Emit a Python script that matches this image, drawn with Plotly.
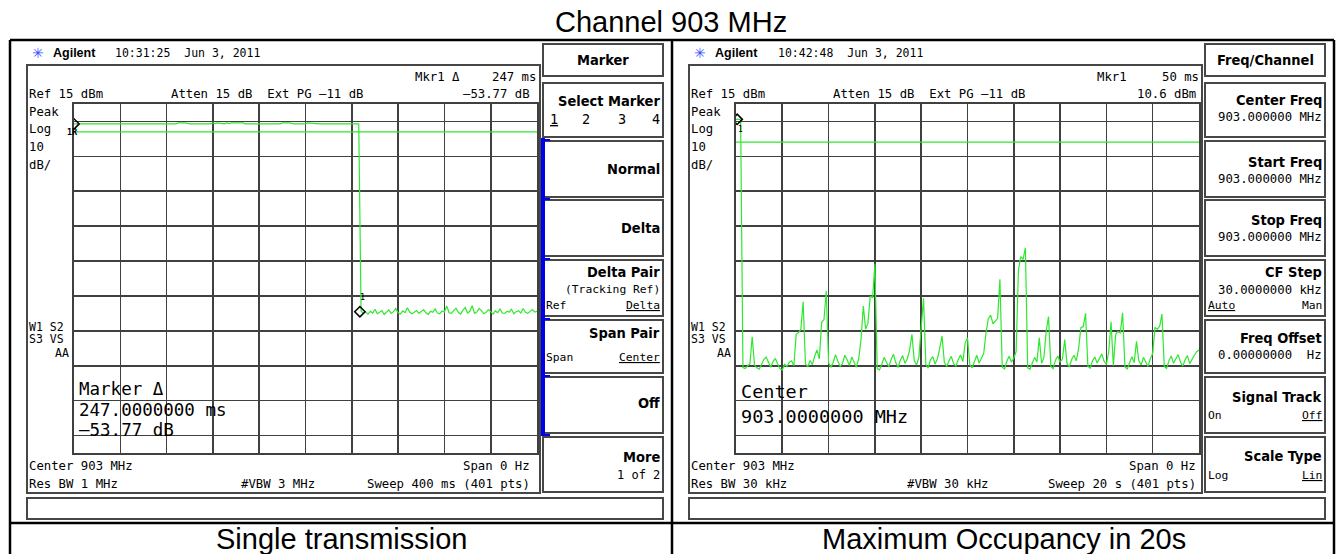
import numpy as np
import plotly.graph_objects as go

W, H = 1337, 554

# ---------------- data ----------------
# Left screen: zero span, sweep 400 ms (time axis in ms), Ref 15 dBm, 10 dB/div
left_sweep_ms = [0, 400]
left_time_ms = np.arange(0, 401, 2)
left_trace1_on = [
    9.3, 9.3, 9.2, 9.3, 9.3, 9.3, 9.2, 9.3, 9.3, 9.3,
    9.3, 9.2, 9.3, 9.3, 9.3, 9.3, 9.3, 9.2, 9.3, 9.3,
    9.3, 9.3, 9.3, 9.2, 9.3, 9.3, 9.3, 9.3, 9.2, 9.3,
    9.3, 9.3, 9.3, 9.3, 9.2, 9.3, 9.3, 9.3, 9.3, 9.3,
    9.2, 9.3, 9.3, 9.3, 9.3, 9.6, 9.5, 9.6, 9.6, 9.4,
    9.3, 9.3, 9.2, 9.3, 9.3, 9.3, 9.3, 9.3, 9.3, 9.3,
    9.6, 9.4, 9.6, 9.5, 9.6, 9.3, 9.6, 9.4, 9.6, 9.6,
    9.4, 9.6, 9.5, 9.6, 9.3, 9.3, 9.3, 9.2, 9.3, 9.3,
    9.3, 9.3, 9.3, 9.2, 9.3, 9.3, 9.3, 9.3, 9.3, 9.3,
    9.6, 9.5, 9.6, 9.6, 9.4, 9.3, 9.3, 9.3, 9.2, 9.3,
    9.3, 9.6, 9.5, 9.6, 9.4, 9.3, 9.3, 9.3, 9.3, 9.2,
    9.3, 9.3, 9.3, 9.3, 9.3, 9.2, 9.3, 9.3, 9.3, 9.3,
    9.3, 9.3, 9.3, 9.3,
]
left_trace1_off = [
    -44.3, -45.0, -44.6, -45.2, -44.4, -44.9, -43.8, -45.1, -44.7, -44.2,
    -45.3, -44.6, -44.0, -45.0, -44.5, -43.6, -44.9, -45.2, -44.3, -44.8,
    -43.4, -44.6, -45.1, -44.7, -44.2, -45.0, -44.5, -43.9, -44.8, -45.3,
    -44.4, -44.7, -43.7, -44.9, -45.1, -44.3, -44.6, -42.9, -44.8, -45.0,
    -44.2, -43.5, -44.7, -45.2, -44.1, -43.3, -44.9, -44.4, -42.8, -45.0,
    -44.6, -43.6, -44.2, -45.1, -44.7, -43.9, -44.5, -45.2, -44.3, -44.8,
    -43.7, -44.9, -45.0, -44.4, -44.6, -43.8, -45.1, -44.5, -44.2, -44.9,
    -43.6, -44.7, -45.0, -44.3, -43.9, -44.6, -44.4,
]
left_trace2_time_ms = [0, 40, 80, 120, 160, 200, 240, 280, 320, 360, 400]
left_trace2 = [7.0, 7.0, 7.0, 7.0, 7.0, 7.0, 7.0, 7.0, 7.0, 7.0, 7.0]
left_marker_time_ms = [0, 247]
left_marker_dbm = [9.3, -44.5]

# Right screen: zero span, sweep 20 s (time axis in s)
right_sweep_s = [0, 20]
right_time_s = np.round(np.arange(0, 201) * 0.1, 2)
right_trace1 = [
    10.6, 10.6, 10.6, -60.5, -60.8, -60.0, -59.5, -51.7, -59.8, -60.6,
    -61.0, -59.7, -58.2, -57.5, -59.0, -60.4, -58.8, -57.9, -59.5, -60.9,
    -61.2, -59.6, -60.2, -59.0, -58.6, -60.0, -51.0, -50.5, -49.6, -41.6,
    -59.4, -60.3, -58.5, -59.7, -57.2, -55.5, -58.0, -47.5, -46.8, -38.6,
    -59.2, -60.5, -59.0, -56.8, -58.7, -60.2, -59.4, -57.0, -58.3, -59.9,
    -57.5, -58.9, -60.4, -58.0, -52.5, -42.9, -49.5, -47.8, -40.0, -40.5,
    -30.8, -60.8, -61.2, -59.5, -57.6, -59.0, -60.3, -58.2, -56.7, -59.1,
    -60.5, -58.4, -57.1, -59.3, -58.0, -55.5, -51.0, -58.5, -59.8, -57.5,
    -47.5, -40.7, -59.6, -60.7, -58.3, -57.4, -59.5, -58.1, -55.0, -51.5,
    -59.0, -60.2, -58.6, -57.3, -59.4, -60.1, -58.2, -56.9, -58.8, -53.5,
    -52.0, -59.7, -60.6, -58.5, -57.0, -59.2, -58.0, -56.5, -50.5, -46.5,
    -45.5, -48.0, -47.2, -46.4, -35.2, -60.4, -60.9, -58.7, -57.3, -59.0,
    -57.8, -56.0, -32.6, -28.7, -29.5, -26.2, -60.6, -61.0, -59.2, -57.6,
    -58.9, -52.0, -59.3, -57.7, -50.0, -45.9, -60.2, -60.8, -58.4, -57.2,
    -59.0, -58.1, -52.5, -59.4, -60.3, -58.2, -57.0, -58.6, -55.0, -49.0,
    -48.8, -45.0, -60.1, -60.7, -58.6, -57.5, -59.2, -58.0, -56.6, -58.7,
    -59.6, -56.0, -47.4, -60.0, -51.0, -50.2, -50.6, -44.8, -60.3, -60.9,
    -58.8, -57.4, -59.1, -53.0, -58.5, -59.8, -57.6, -58.9, -60.2, -57.9,
    -56.5, -49.0, -49.5, -48.7, -45.2, -60.2, -60.8, -58.6, -57.2, -59.3,
    -58.0, -56.8, -59.0, -60.1, -58.3, -57.1, -59.4, -58.0, -57.0, -56.0,
    -55.5,
]
right_trace2_time_s = [0, 2, 4, 6, 8, 10, 12, 14, 16, 18, 20]
right_trace2 = [4.1, 4.1, 4.1, 4.1, 4.1, 4.1, 4.1, 4.1, 4.1, 4.1, 4.1]
right_marker_time_s = [0.05]
right_marker_dbm = [10.6]

ref_level_dbm = 15
db_per_div = 10
n_div = 10

# ---------------- styling ----------------
GREEN = "#2ee82e"
GRID = "#404040"
FRAME = "#474747"
MONO = "DejaVu Sans Mono"
KEYF = "DejaVu Sans Condensed, DejaVu Sans"
SANS = "Liberation Sans, Arial"

fig = go.Figure()

fig.add_trace(go.Scatter(x=left_trace2_time_ms, y=left_trace2, mode="lines",
                         line=dict(color=GREEN, width=1.2), xaxis="x", yaxis="y", hoverinfo="skip"))
fig.add_trace(go.Scatter(x=left_time_ms, y=left_trace1_on + left_trace1_off, mode="lines",
                         line=dict(color=GREEN, width=1.2), xaxis="x", yaxis="y", hoverinfo="skip"))
fig.add_trace(go.Scatter(x=left_marker_time_ms, y=left_marker_dbm, mode="markers",
                         marker=dict(symbol="diamond-open", size=8, color="black", line=dict(width=1.5)),
                         xaxis="x", yaxis="y", hoverinfo="skip"))

fig.add_trace(go.Scatter(x=right_trace2_time_s, y=right_trace2, mode="lines",
                         line=dict(color=GREEN, width=1.2), xaxis="x2", yaxis="y2", hoverinfo="skip"))
fig.add_trace(go.Scatter(x=right_time_s, y=right_trace1, mode="lines",
                         line=dict(color=GREEN, width=1.2), xaxis="x2", yaxis="y2", hoverinfo="skip"))
fig.add_trace(go.Scatter(x=right_marker_time_s, y=right_marker_dbm, mode="markers",
                         marker=dict(symbol="diamond-open", size=8, color="black", line=dict(width=1.5)),
                         xaxis="x2", yaxis="y2", hoverinfo="skip"))

ybot = ref_level_dbm - db_per_div * n_div


def xdom(a, b):
    return [a / W, b / W]


ydom = [1 - 453 / H, 1 - 104 / H]
axcommon = dict(showgrid=True, gridcolor=GRID, gridwidth=1.6, showline=True, mirror=True,
                linecolor=GRID, linewidth=2, zeroline=False, showticklabels=False, ticks="",
                fixedrange=True)
fig.update_layout(
    xaxis=dict(domain=xdom(74, 537), range=left_sweep_ms, dtick=(left_sweep_ms[1]) / n_div, anchor="y", **axcommon),
    yaxis=dict(domain=ydom, range=[ybot, ref_level_dbm], dtick=db_per_div, anchor="x", **axcommon),
    xaxis2=dict(domain=xdom(736, 1199), range=right_sweep_s, dtick=(right_sweep_s[1]) / n_div, anchor="y2", **axcommon),
    yaxis2=dict(domain=ydom, range=[ybot, ref_level_dbm], dtick=db_per_div, anchor="x2", **axcommon),
)

shapes = []
anns = []


def rect(x0, y0, x1, y1, color=FRAME, width=2, fill=None):
    shapes.append(dict(type="rect", xref="paper", yref="paper", x0=x0 / W, x1=x1 / W,
                       y0=1 - y1 / H, y1=1 - y0 / H, line=dict(color=color, width=width),
                       fillcolor=fill if fill else "rgba(0,0,0,0)", layer="above"))


def line(x0, y0, x1, y1, color="black", width=2.5):
    shapes.append(dict(type="line", xref="paper", yref="paper", x0=x0 / W, x1=x1 / W,
                       y0=1 - y0 / H, y1=1 - y1 / H, line=dict(color=color, width=width)))


def T(text, x, y, size=12.3, anchor="left", family=MONO, bold=False, color="black", ul=False):
    if ul:
        text = "<span style='text-decoration:underline'>" + text + "</span>"
    if bold:
        text = "<b>" + text + "</b>"
    anns.append(dict(text=text, x=x / W, y=1 - y / H, xref="paper", yref="paper",
                     xanchor=anchor, yanchor="middle", showarrow=False, borderpad=0,
                     font=dict(family=family, size=size, color=color)))


# outer table
line(10, 40, 1334, 40)
line(10, 40, 10, 560)
line(672, 40, 672, 560)
line(1334, 40, 1334, 560)
line(10, 523, 1334, 523)

T("Channel 903 MHz", 671, 22, size=29, anchor="center", family=SANS)
T("Single transmission", 341, 539, size=29, anchor="center", family=SANS)
T("Maximum Occupancy in 20s", 1004, 539, size=29, anchor="center", family=SANS)

key_boxes = [(83, 137), (141, 197), (200, 256), (260, 316), (320, 373), (377, 433), (437, 492)]

for dx in (0, 662):
    # display frame and status bar
    rect(27 + dx, 65, 540 + dx, 493)
    rect(27 + dx, 498, 663 + dx, 519)
    # soft keys
    rect(543 + dx, 44, 663 + dx, 76)
    for (a, b) in key_boxes:
        rect(543 + dx, a, 663 + dx, b)
    # header
    T("\u2733", 31 + dx, 53, size=14, color="#3c50ff", family="DejaVu Sans")
    T("Agilent", 52 + dx, 53, size=12.5, bold=True, family=SANS)
    T("Ref 15 dBm", 28 + dx, 94)
    T("Atten 15 dB  Ext PG \u201311 dB", 170 + dx, 94)
    for txt, yy in (("Peak", 112), ("Log", 129), ("10", 147), ("dB/", 165)):
        T(txt, 28 + dx, yy)
    T("W1 S2", 28 + dx, 327, size=11.5)
    T("S3 VS", 28 + dx, 339, size=11.5)
    T("AA", 70 + dx, 353, size=11.5, anchor="right")
    T("Center 903 MHz", 28 + dx, 466)

# left panel specific texts
T("10:31:25  Jun 3, 2011", 114, 53, size=11.5)
T("Mkr1 \u0394", 414, 77)
T("247 ms", 537, 77, anchor="right")
T("\u201353.77 dB", 531, 94, anchor="right")
T("Res BW 1 MHz", 28, 484)
T("#VBW 3 MHz", 240, 484)
T("Sweep 400 ms (401 pts)", 531, 484, anchor="right")
T("Span 0 Hz", 531, 466, anchor="right")
T("1R", 66, 132, size=8.5, bold=True)
T("1", 359, 297, size=8.5)
T("Marker \u0394", 78, 389, size=17.5)
T("247.0000000 ms", 78, 409.5, size=17.5)
T("\u201353.77 dB", 78, 430, size=17.5)

# left soft keys
T("Marker", 603, 60, size=14.5, anchor="center", family=KEYF, bold=True)
T("Select Marker", 661, 101, size=14.5, anchor="right", family=KEYF, bold=True)
T("1", 549, 119, size=13.5, ul=True)
T("2", 586, 119, size=13.5, anchor="center")
T("3", 622, 119, size=13.5, anchor="center")
T("4", 661, 119, size=13.5, anchor="right")
T("Normal", 661, 169, size=14.5, anchor="right", family=KEYF, bold=True)
T("Delta", 661, 228, size=14.5, anchor="right", family=KEYF, bold=True)
T("Delta Pair", 661, 272, size=14.5, anchor="right", family=KEYF, bold=True)
T("(Tracking Ref)", 661, 289, size=11.3, anchor="right")
T("Ref", 545, 305, size=11.3)
T("Delta", 661, 305, size=11.3, anchor="right", ul=True)
T("Span Pair", 661, 333, size=14.5, anchor="right", family=KEYF, bold=True)
T("Span", 545, 357, size=11.3)
T("Center", 661, 357, size=11.3, anchor="right", ul=True)
T("Off", 661, 403, size=14.5, anchor="right", family=KEYF, bold=True)
T("More", 661, 457, size=14.5, anchor="right", family=KEYF, bold=True)
T("1 of 2", 661, 475, size=12, anchor="right")

# blue active-menu bar on the left screen
rect(541, 138, 545, 436, color="#0000ee", width=0, fill="#0000ee")
for yy in (139, 198, 258, 318, 375, 434):
    rect(541, yy, 550, yy + 2, color="#0000ee", width=0, fill="#0000ee")

# right panel specific texts
T("10:42:48  Jun 3, 2011", 777, 53, size=11.5)
T("Mkr1", 1096, 77)
T("50 ms", 1200, 77, anchor="right")
T("10.6 dBm", 1197, 94, anchor="right")
T("Res BW 30 kHz", 690, 484)
T("#VBW 30 kHz", 906, 484)
T("Sweep 20 s (401 pts)", 1197, 484, anchor="right")
T("Span 0 Hz", 1197, 466, anchor="right")
T("1", 737, 129, size=8)
T("Center", 740, 391, size=18.5)
T("903.0000000 MHz", 740, 416, size=18.5)

RK = 1323
T("Freq/Channel", 1265, 60, size=14.5, anchor="center", family=KEYF, bold=True)
T("Center Freq", RK, 100, size=14.5, anchor="right", family=KEYF, bold=True)
T("903.000000 MHz", RK, 117, size=12.3, anchor="right")
T("Start Freq", RK, 162, size=14.5, anchor="right", family=KEYF, bold=True)
T("903.000000 MHz", RK, 179, size=12.3, anchor="right")
T("Stop Freq", RK, 220, size=14.5, anchor="right", family=KEYF, bold=True)
T("903.000000 MHz", RK, 237, size=12.3, anchor="right")
T("CF Step", RK, 272, size=14.5, anchor="right", family=KEYF, bold=True)
T("30.0000000 kHz", RK, 290, size=12.3, anchor="right")
T("Auto", 1207, 305, size=11.3, ul=True)
T("Man", RK, 305, size=11.3, anchor="right")
T("Freq Offset", RK, 338, size=14.5, anchor="right", family=KEYF, bold=True)
T("0.00000000  Hz", RK, 355, size=12.3, anchor="right")
T("Signal Track", RK, 397, size=14.5, anchor="right", family=KEYF, bold=True)
T("On", 1207, 415, size=11.3)
T("Off", RK, 415, size=11.3, anchor="right", ul=True)
T("Scale Type", RK, 456, size=14.5, anchor="right", family=KEYF, bold=True)
T("Log", 1207, 475, size=11.3)
T("Lin", RK, 475, size=11.3, anchor="right", ul=True)

fig.update_layout(
    width=W, height=H, autosize=False,
    margin=dict(l=0, r=0, t=0, b=0, pad=0),
    paper_bgcolor="white", plot_bgcolor="white",
    showlegend=False, shapes=shapes, annotations=anns,
)

fig.write_html("out.html", config={"displayModeBar": False, "staticPlot": True},
               post_script="document.body.style.margin='0';document.body.style.overflow='hidden';")
